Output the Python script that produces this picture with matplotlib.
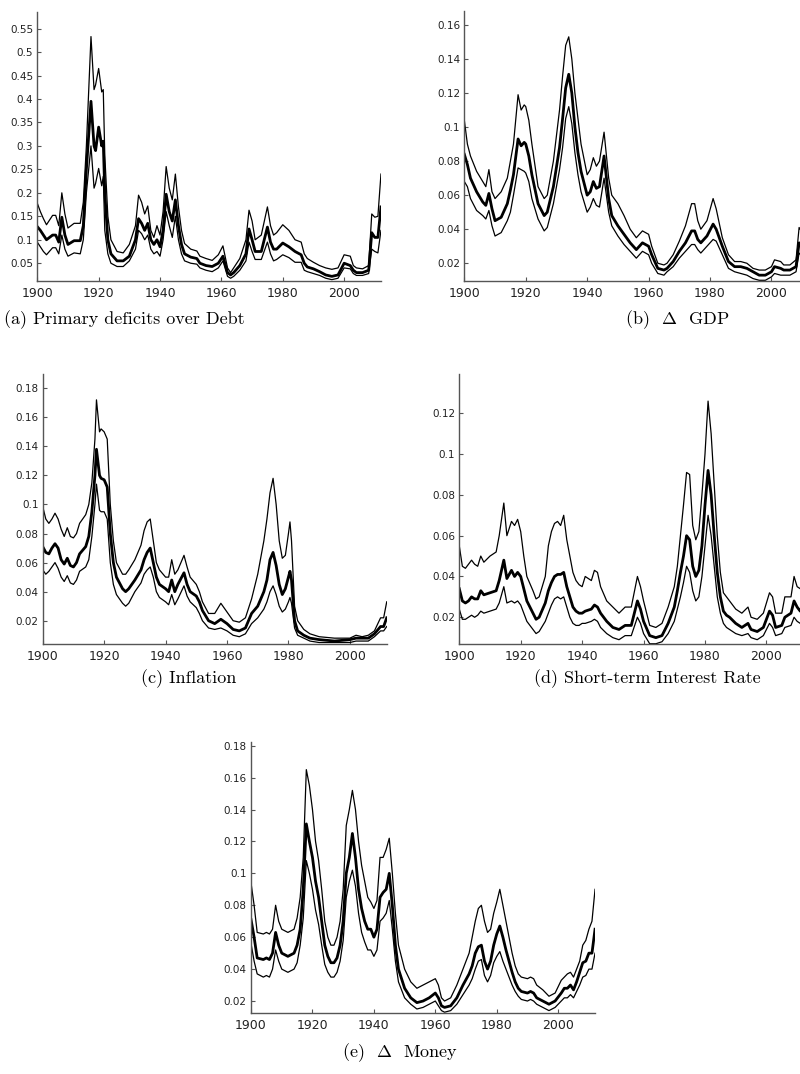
import numpy as np
import matplotlib
matplotlib.use("Agg")
import matplotlib.pyplot as plt
from matplotlib.ticker import FuncFormatter

plt.rcParams['mathtext.fontset'] = 'cm'
plt.rcParams['font.family'] = ['DejaVu Sans']

# (a) primary deficits over debt
years_a = [1900, 1901, 1902, 1903, 1905, 1906, 1907, 1908, 1909, 1910,
           1912, 1914, 1915, 1916, 1917.5, 1918.5, 1919, 1920, 1921, 1921.5,
           1922, 1923, 1924, 1926, 1928, 1930, 1932, 1933, 1934, 1935,
           1936, 1937, 1938, 1939, 1940, 1941, 1942, 1943, 1944, 1945,
           1946, 1947, 1948, 1950, 1952, 1953, 1955, 1957, 1959, 1960.5,
           1962, 1963, 1964, 1966, 1968, 1969, 1970, 1971, 1973, 1975,
           1976, 1977, 1978, 1980, 1982, 1984, 1986, 1987, 1988, 1990,
           1992, 1994, 1996, 1998, 2000, 2002, 2003, 2004, 2006, 2008,
           2009, 2010, 2011, 2012]
hi_a = [.178, .16, .145, .132, .152, .152, .13, .2, .155, .125,
        .135, .135, .18, .3, .533, .42, .43, .465, .415, .42,
        .28, .15, .1, .075, .072, .09, .13, .195, .18, .155,
        .172, .12, .105, .13, .11, .16, .256, .21, .185, .24,
        .17, .12, .092, .08, .076, .065, .06, .056, .068, .087,
        .04, .03, .04, .06, .1, .163, .14, .1, .11, .17,
        .13, .11, .115, .132, .12, .1, .095, .07, .06, .052,
        .045, .04, .037, .04, .068, .065, .045, .04, .038, .045,
        .155, .148, .15, .24]
med_a = [.128, .12, .11, .1, .11, .11, .095, .148, .11, .09,
         .098, .098, .13, .25, .395, .3, .29, .34, .3, .31,
         .2, .1, .07, .055, .055, .065, .1, .145, .135, .12,
         .135, .1, .09, .1, .085, .12, .197, .16, .14, .185,
         .13, .09, .07, .063, .06, .05, .045, .043, .05, .065,
         .03, .025, .03, .045, .07, .123, .1, .075, .075, .127,
         .095, .08, .08, .093, .085, .075, .068, .05, .042, .038,
         .032, .025, .022, .025, .05, .045, .035, .03, .03, .035,
         .115, .105, .105, .17]
lo_a = [.095, .085, .075, .068, .083, .083, .07, .11, .08, .065,
        .072, .07, .1, .2, .3, .21, .22, .252, .215, .235,
        .12, .07, .05, .043, .043, .055, .08, .12, .113, .1,
        .11, .08, .07, .075, .065, .1, .16, .13, .105, .15,
        .1, .07, .055, .05, .048, .04, .035, .032, .04, .055,
        .022, .018, .022, .035, .055, .095, .075, .058, .058, .095,
        .07, .055, .058, .068, .062, .052, .052, .035, .032, .028,
        .024, .018, .015, .018, .04, .038, .028, .024, .024, .028,
        .08, .075, .072, .12]

# (b) GDP growth
years_b = [1900, 1901, 1902, 1904, 1906, 1907, 1908, 1909, 1910, 1912,
           1914, 1915, 1916, 1917.5, 1918.5, 1919.5, 1920, 1921, 1922, 1924,
           1926, 1927, 1929, 1931, 1932, 1933, 1934, 1935, 1936, 1937,
           1938, 1940, 1941, 1942, 1943, 1944, 1945.5, 1947, 1948, 1950,
           1952, 1954, 1956, 1958, 1960, 1961, 1963, 1965, 1966, 1968,
           1970, 1972, 1974, 1975, 1976, 1977, 1979, 1981, 1982, 1984,
           1986, 1988, 1990, 1992, 1994, 1996, 1998, 2000, 2001, 2003,
           2004, 2006, 2008, 2009, 2010, 2012]
hi_b = [.104, .09, .083, .074, .068, .065, .075, .062, .058, .062,
        .07, .08, .09, .119, .11, .113, .112, .104, .09, .065,
        .058, .06, .08, .11, .13, .148, .153, .14, .12, .105,
        .09, .072, .075, .082, .077, .08, .097, .07, .06, .055,
        .048, .04, .035, .039, .037, .03, .02, .019, .02, .025,
        .033, .042, .055, .055, .045, .04, .045, .058, .052, .035,
        .025, .021, .021, .02, .017, .016, .016, .018, .022, .021,
        .019, .019, .022, .041, .038, .04]
med_b = [.084, .078, .07, .062, .056, .054, .061, .052, .045, .047,
         .055, .063, .072, .093, .089, .091, .09, .083, .072, .055,
         .048, .05, .065, .088, .105, .123, .131, .12, .1, .085,
         .074, .06, .062, .068, .064, .065, .083, .058, .048, .042,
         .037, .032, .028, .032, .03, .025, .017, .016, .017, .021,
         .027, .032, .039, .039, .034, .032, .036, .043, .04, .03,
         .021, .018, .018, .017, .015, .013, .013, .015, .018, .017,
         .016, .016, .018, .032, .03, .033]
lo_b = [.068, .065, .058, .051, .048, .046, .051, .042, .036, .038,
        .045, .05, .06, .076, .075, .074, .073, .068, .058, .046,
        .039, .041, .055, .075, .088, .105, .112, .102, .085, .072,
        .062, .05, .053, .058, .054, .053, .07, .05, .042, .036,
        .031, .027, .023, .027, .025, .02, .014, .013, .015, .018,
        .023, .027, .031, .031, .028, .026, .03, .034, .033, .025,
        .017, .015, .014, .013, .011, .01, .01, .012, .014, .013,
        .013, .013, .015, .026, .024, .027]

# (c) inflation
years_c = [1900, 1901, 1902, 1903, 1904, 1905, 1906, 1907, 1908, 1909,
           1910, 1911, 1912, 1914, 1915, 1916, 1917, 1917.5, 1918.5, 1919,
           1920, 1921, 1922, 1923, 1924, 1926, 1927, 1928, 1930, 1932,
           1933, 1934, 1935, 1936, 1937, 1938, 1940, 1941, 1942, 1943,
           1944, 1946, 1947, 1948, 1950, 1951, 1952, 1954, 1956, 1958,
           1960, 1962, 1964, 1966, 1968, 1970, 1972, 1973, 1974, 1975,
           1976, 1977, 1978, 1979, 1980, 1980.5, 1981, 1982, 1983, 1985,
           1987, 1990, 1995, 2000, 2002, 2004, 2006, 2008, 2010, 2011,
           2012]
hi_c = [.0986, .09, .087, .09, .094, .09, .083, .078, .084, .078,
        .077, .08, .087, .093, .1, .115, .145, .172, .15, .152,
        .15, .145, .1, .075, .06, .052, .052, .055, .062, .072,
        .082, .088, .09, .075, .06, .055, .05, .05, .062, .052,
        .055, .065, .057, .05, .045, .04, .033, .025, .025, .032,
        .026, .02, .019, .022, .035, .052, .075, .09, .108, .118,
        .1, .075, .063, .065, .08, .088, .075, .03, .02, .014,
        .011, .009, .008, .008, .01, .009, .01, .013, .022, .022,
        .033]
med_c = [.071, .067, .066, .07, .073, .07, .062, .059, .063, .058,
         .057, .06, .066, .071, .078, .095, .12, .138, .12, .118,
         .117, .112, .08, .06, .05, .042, .04, .042, .048, .055,
         .062, .067, .07, .06, .05, .045, .042, .04, .048, .04,
         .045, .053, .045, .04, .037, .033, .027, .02, .018, .021,
         .018, .014, .013, .015, .025, .03, .04, .048, .062, .067,
         .058, .045, .038, .042, .05, .054, .048, .02, .013, .01,
         .008, .007, .006, .007, .008, .008, .008, .011, .016, .016,
         .022]
lo_c = [.055, .052, .054, .057, .06, .056, .05, .047, .051, .046,
        .045, .048, .054, .057, .062, .078, .1, .114, .096, .095,
        .095, .09, .06, .045, .038, .032, .03, .032, .04, .046,
        .052, .055, .057, .05, .04, .036, .033, .031, .038, .031,
        .035, .044, .037, .033, .029, .025, .02, .015, .014, .015,
        .013, .01, .009, .011, .018, .022, .028, .033, .04, .044,
        .038, .03, .026, .028, .033, .036, .032, .015, .01, .008,
        .006, .005, .005, .005, .006, .006, .006, .009, .013, .013,
        .016]

# (d) short-term interest rate
years_d = [1900, 1901, 1902, 1903, 1904, 1905, 1906, 1907, 1908, 1910,
           1912, 1913, 1914.5, 1915.5, 1917, 1918, 1919, 1920, 1921, 1922,
           1924, 1925, 1926, 1928, 1929, 1930, 1931, 1932, 1933, 1934,
           1935, 1936, 1937, 1938, 1939, 1940, 1941, 1943, 1944, 1945,
           1946, 1948, 1950, 1952, 1954, 1956, 1958, 1959, 1960, 1962,
           1964, 1966, 1968, 1970, 1971, 1972, 1973, 1974, 1975, 1976,
           1977, 1978, 1979, 1980, 1981, 1982, 1983, 1984, 1985, 1986,
           1987, 1988, 1990, 1992, 1994, 1995, 1997, 1999, 2001, 2002,
           2003, 2005, 2006, 2008, 2009, 2010, 2011, 2012]
hi_d = [.055, .045, .044, .046, .048, .046, .045, .05, .047, .05,
        .052, .06, .076, .06, .067, .065, .068, .062, .05, .04,
        .033, .029, .03, .04, .055, .062, .066, .067, .065, .07,
        .058, .05, .042, .038, .036, .035, .04, .038, .043, .042,
        .035, .028, .025, .022, .025, .025, .04, .035, .028, .016,
        .015, .017, .025, .035, .045, .06, .075, .091, .09, .065,
        .058, .062, .08, .1, .126, .11, .085, .06, .042, .032,
        .03, .028, .024, .022, .025, .02, .019, .022, .032, .03,
        .022, .022, .03, .03, .04, .035, .034, .038]
med_d = [.034, .028, .027, .028, .03, .029, .029, .033, .031, .032,
         .033, .038, .048, .039, .043, .04, .042, .04, .034, .028,
         .022, .019, .02, .027, .033, .037, .04, .041, .041, .042,
         .035, .03, .025, .023, .022, .022, .023, .024, .026, .025,
         .022, .018, .015, .014, .016, .016, .028, .024, .018, .011,
         .01, .011, .017, .025, .033, .042, .05, .06, .058, .045,
         .04, .043, .055, .075, .092, .08, .06, .042, .03, .023,
         .021, .02, .017, .015, .017, .014, .013, .015, .023, .021,
         .015, .016, .02, .022, .028, .025, .023, .026]
lo_d = [.024, .019, .019, .02, .021, .02, .021, .023, .022, .023,
        .024, .027, .035, .027, .028, .027, .028, .026, .022, .018,
        .014, .012, .013, .018, .022, .026, .029, .03, .029, .03,
        .025, .02, .017, .016, .016, .017, .017, .018, .019, .018,
        .015, .012, .01, .009, .011, .011, .02, .017, .012, .007,
        .007, .008, .012, .018, .024, .03, .037, .045, .042, .033,
        .028, .03, .04, .055, .07, .06, .045, .03, .022, .017,
        .015, .014, .012, .011, .012, .01, .009, .011, .017, .015,
        .011, .012, .015, .016, .02, .018, .017, .019]

# (e) money growth
years_e = [1900, 1901, 1902, 1904, 1905, 1906, 1907, 1908, 1909, 1910,
           1912, 1914, 1915, 1916, 1917, 1918, 1919, 1920, 1921,
           1922, 1923, 1924, 1925, 1926, 1927, 1928, 1929, 1930, 1931,
           1932, 1933, 1934, 1935, 1936, 1937, 1938, 1939, 1940, 1941,
           1942, 1943, 1944, 1945, 1946, 1947, 1948, 1950, 1952, 1954,
           1956, 1958, 1960, 1961, 1962, 1963, 1965, 1967, 1969, 1971,
           1972, 1973, 1974, 1975, 1976, 1977, 1978, 1979, 1980, 1981,
           1982, 1983, 1984, 1985, 1986, 1987, 1988, 1990, 1991, 1992,
           1993, 1995, 1997, 1999, 2001, 2002, 2003, 2004, 2005, 2006,
           2007, 2008, 2009, 2010, 2011, 2012]
hi_e = [.094, .08, .063, .062, .063, .062, .065, .08, .07, .065,
        .063, .065, .072, .085, .11, .165, .155, .14, .12,
        .108, .09, .07, .06, .055, .055, .06, .07, .09, .13,
        .14, .152, .14, .12, .105, .095, .085, .082, .078, .083,
        .11, .11, .115, .122, .1, .075, .055, .04, .032, .028,
        .03, .032, .034, .03, .022, .02, .022, .03, .04, .05,
        .06, .07, .078, .08, .07, .063, .065, .075, .082, .09,
        .08, .07, .06, .05, .042, .037, .035, .034, .035, .034,
        .03, .027, .023, .025, .033, .035, .037, .038, .035, .04,
        .045, .055, .058, .065, .07, .09]
med_e = [.071, .06, .047, .046, .047, .046, .05, .063, .055, .05,
         .048, .05, .055, .065, .09, .131, .12, .11, .095,
         .085, .07, .055, .048, .044, .044, .047, .055, .07, .1,
         .11, .125, .11, .09, .078, .07, .065, .065, .06, .065,
         .085, .088, .09, .1, .08, .055, .04, .028, .022, .019,
         .02, .022, .025, .022, .017, .016, .017, .022, .03, .037,
         .042, .05, .054, .055, .045, .04, .045, .055, .062, .067,
         .06, .052, .045, .038, .032, .028, .026, .025, .026, .025,
         .022, .02, .018, .02, .025, .028, .028, .03, .027, .032,
         .038, .044, .045, .05, .05, .065]
lo_e = [.056, .045, .037, .035, .036, .035, .04, .052, .045, .04,
        .038, .04, .044, .055, .072, .108, .1, .09, .077,
        .068, .055, .043, .038, .035, .035, .038, .045, .058, .085,
        .095, .102, .092, .075, .063, .057, .052, .052, .048, .052,
        .07, .072, .075, .083, .065, .045, .032, .022, .018, .015,
        .016, .018, .02, .017, .014, .013, .014, .018, .024, .03,
        .034, .04, .045, .046, .036, .032, .036, .044, .048, .051,
        .045, .04, .035, .03, .026, .023, .021, .02, .021, .02,
        .018, .016, .014, .016, .02, .022, .022, .024, .022, .026,
        .03, .035, .036, .04, .04, .05]

captions = ['(a) Primary deficits over Debt',
            r'(b)  $\Delta$  GDP',
            '(c) Inflation',
            '(d) Short-term Interest Rate',
            r'(e)  $\Delta$  Money']

panels = [
    (years_a, lo_a, med_a, hi_a, [0.0466, 0.7384, 0.4296, 0.2507], (0.0122, 0.586), np.arange(0.05, 0.56, 0.05)),
    (years_b, lo_b, med_b, hi_b, [0.5804, 0.7384, 0.4300, 0.2514], (0.0096, 0.1682), np.arange(0.02, 0.17, 0.02)),
    (years_c, lo_c, med_c, hi_c, [0.0534, 0.4004, 0.4300, 0.2511], (0.0040, 0.1896), np.arange(0.02, 0.19, 0.02)),
    (years_d, lo_d, med_d, hi_d, [0.5741, 0.4004, 0.4300, 0.2514], (0.0069, 0.1393), np.arange(0.02, 0.13, 0.02)),
    (years_e, lo_e, med_e, hi_e, [0.3138, 0.0568, 0.4300, 0.2523], (0.0125, 0.1823), np.arange(0.02, 0.19, 0.02)),
]
cap_pos = [(124, 320), (677, 320), (189, 679), (647, 679), (400, 1053)]

fig = plt.figure(figsize=(8, 10.74), dpi=100)
fmt = FuncFormatter(lambda v, p: '%g' % round(v, 3))

for (yr, lo, med, hi, rect, ylim, yt), cap, (cx, cy) in zip(panels, captions, cap_pos):
    ax = fig.add_axes(rect)
    ax.plot(yr, hi, color='black', lw=0.9)
    ax.plot(yr, lo, color='black', lw=0.9)
    ax.plot(yr, med, color='black', lw=2.0)
    ax.set_xlim(1900, 2012)
    ax.set_ylim(*ylim)
    ax.set_xticks(range(1900, 2001, 20))
    ax.set_yticks(yt)
    ax.yaxis.set_major_formatter(fmt)
    for s in ['top', 'right']:
        ax.spines[s].set_visible(False)
    for s in ['left', 'bottom']:
        ax.spines[s].set_color('#555555')
        ax.spines[s].set_linewidth(1.0)
    ax.tick_params(direction='in', length=3, width=0.8, color='#555555',
                   labelcolor='#222222')
    ax.tick_params(axis='x', labelsize=9, pad=4)
    ax.tick_params(axis='y', labelsize=7.5, pad=3)
    fig.text(cx / 800, 1 - cy / 1074, cap, ha='center', va='center',
             fontsize=13, family='cmr10', color='black')

fig.savefig('out.png', dpi=100)
